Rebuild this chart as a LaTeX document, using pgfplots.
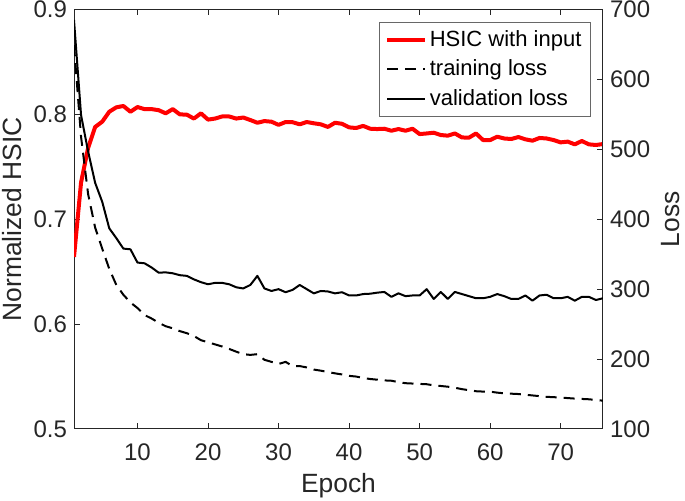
\documentclass[border=0pt]{standalone}
\usepackage{fontspec}
\setmainfont{Liberation Sans}
\usepackage{pgfplots}
\pgfplotsset{compat=1.18}
\usepackage{pgfplotstable}
\definecolor{axgray}{rgb}{0.15,0.15,0.15}

\pgfplotstableread{
epoch hsic val train
1 0.664 685 649
2 0.735 549 518
3 0.768 497 436
4 0.788 452 388
5 0.793 425 358
6 0.8025 387 329
7 0.8067 373 306
8 0.808 358 292
9 0.8025 357 281
10 0.807 338 273
11 0.805 337 263
12 0.805 331 258
13 0.804 323.6 252
14 0.801 324 247
15 0.805 322.7 244
16 0.800 320 240
17 0.7997 319 237
18 0.796 314 233
19 0.801 310 227
20 0.795 307 224
21 0.796 309 221
22 0.798 309 218
23 0.798 307 214.5
24 0.796 302.7 210.6
25 0.797 301 207
26 0.7946 306 206
27 0.792 319 207
28 0.7936 301 199
29 0.793 297.4 196
30 0.790 300 193
31 0.7927 295.6 196
32 0.7925 299 190
33 0.7905 306 190
34 0.7927 300 188
35 0.7915 294 185
36 0.7905 297.4 183.4
37 0.788 296.7 181.5
38 0.792 294 179.6
39 0.791 295.6 178
40 0.7876 291 176
41 0.787 291 175
42 0.789 293 173
43 0.7863 293.5 171.5
44 0.786 295 170.5
45 0.7863 296 169.5
46 0.7844 289 169
47 0.786 294 167
48 0.7844 290 165.5
49 0.7863 291 165
50 0.7812 291 164.5
51 0.7818 300 164
52 0.7825 286 162.5
53 0.7803 296 161.5
54 0.7797 286 160.5
55 0.7818 296 159
56 0.778 293 157
57 0.7778 290 155.5
58 0.7818 287 154
59 0.7755 287 153.5
60 0.7755 289 153.4
61 0.7787 293 152
62 0.777 290 151
63 0.7765 286 150.5
64 0.7784 286 150
65 0.7762 291 149
66 0.7749 283.5 148
67 0.7775 291 147
68 0.777 292 146
69 0.7755 287 145.5
70 0.7733 287 145
71 0.774 289 144.2
72 0.7714 283.5 143.5
73 0.7746 289 143
74 0.7714 289 142.5
75 0.7708 284.5 141.5
76 0.7717 287 140.5
}\data

\begin{document}
\begin{tikzpicture}
\pgfplotsset{
  common/.style={
    scale only axis, width=264.5pt, height=209.75pt,
    at={(0,0)}, anchor=south west,
    xmin=1, xmax=76,
    axis line style={axgray, line width=0.5pt},
    tick style={axgray, line width=0.5pt},
    major tick length=3pt,
    tick align=inside,
    /pgf/number format/assume math mode=true,
    tick label style={font=\fontsize{12}{14}\selectfont, text=axgray},
    label style={font=\fontsize{13.2}{15}\selectfont, text=axgray},
  }
}
\begin{axis}[
  common,
  ymin=0.5, ymax=0.9,
  xtick={10,20,30,40,50,60,70},
  ytick={0.5,0.6,0.7,0.8,0.9},
  yticklabels={0.5,0.6,0.7,0.8,0.9},
  xtick pos=both, ytick pos=left,
  xticklabel style={yshift=-4pt},
  xlabel={Epoch}, ylabel={Normalized HSIC},
  xlabel style={at={(axis description cs:0.5,-0.1359)}, anchor=center},
  ylabel style={at={(axis description cs:-0.1163,0.5)}, anchor=center},
]
\addplot[red, line width=2pt, line join=round] table[x=epoch, y=hsic]{\data};
\end{axis}
\begin{axis}[
  common,
  ymin=100, ymax=700,
  axis x line=none, axis y line*=right,
  ytick={100,200,300,400,500,600,700},
  ytick pos=right,
  ylabel={Loss},
  ylabel style={at={(axis description cs:1.128,0.5)}, anchor=center},
  legend style={at={(0.977,0.970)}, anchor=north east, draw=axgray!70, fill=white,
    font=\fontsize{11}{13}\selectfont, inner xsep=3pt, inner ysep=2pt,
    nodes={inner xsep=1.5pt, inner ysep=2pt},
    row sep=1.25pt, cells={anchor=west}, text=black},
  legend image code/.code={\draw[#1] (0pt,0pt) -- (18.7pt,0pt);},
]
\addlegendimage{red, line width=2pt}
\addlegendentry{HSIC with input}
\addplot[black, line width=1pt, dash pattern=on 5.5pt off 3.5pt] table[x=epoch, y=train]{\data};
\addlegendentry{training loss}
\addplot[black, line width=1pt, line join=round] table[x=epoch, y=val]{\data};
\addlegendentry{validation loss}
\end{axis}
\pgfresetboundingbox
\useasboundingbox (-37pt,-36pt) rectangle (305.5pt,214.5pt);
\end{tikzpicture}
\end{document}
